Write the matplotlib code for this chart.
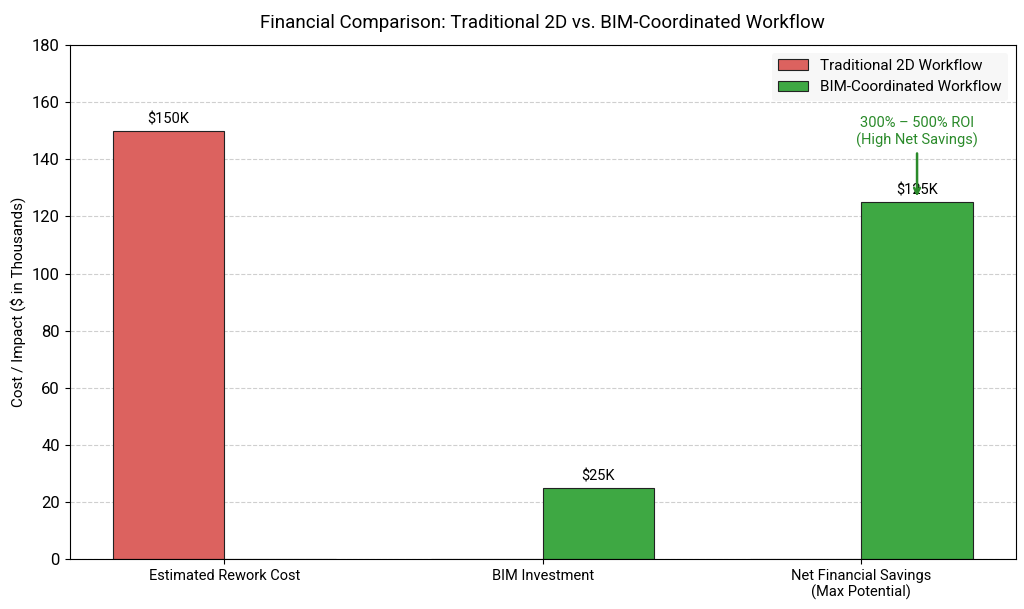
import numpy as np
import matplotlib.pyplot as plt

plt.rcParams['font.family'] = ['Roboto', 'DejaVu Sans']

categories = ["Estimated Rework Cost", "BIM Investment", "Net Financial Savings\n(Max Potential)"]
traditional = [150, 0, 0]
bim = [0, 25, 125]
labels_trad = ["$150K", "", ""]
labels_bim = ["", "$25K", "$125K"]

x = np.arange(len(categories))
w = 0.35

fig, ax = plt.subplots(figsize=(10.24, 6.09), dpi=100)
b1 = ax.bar(x - w/2, traditional, w, label="Traditional 2D Workflow",
            color='#dc625f', edgecolor='#222222', linewidth=0.8)
b2 = ax.bar(x + w/2, bim, w, label="BIM-Coordinated Workflow",
            color='#3ea843', edgecolor='#222222', linewidth=0.8)

for bars, labs in [(b1, labels_trad), (b2, labels_bim)]:
    for bar, lab in zip(bars, labs):
        if lab:
            ax.text(bar.get_x() + bar.get_width()/2, bar.get_height() + 1.5, lab,
                    ha='center', va='bottom', fontsize=10.5)

ax.annotate("300% – 500% ROI\n(High Net Savings)", xy=(2 + w/2, 126), xytext=(2 + w/2, 144),
            ha='center', va='bottom', color='#2a8a2a', fontsize=10.5,
            arrowprops=dict(arrowstyle='->', color='#2a8a2a', lw=1.8))

ax.set_ylim(0, 180)
ax.set_xticks(x)
ax.set_xticklabels(categories, fontsize=10.5)
ax.tick_params(axis='y', labelsize=12)
ax.set_ylabel("Cost / Impact ($ in Thousands)", fontsize=11)
ax.set_title("Financial Comparison: Traditional 2D vs. BIM-Coordinated Workflow", fontsize=13.5, pad=12)
ax.yaxis.grid(True, linestyle='--', alpha=0.6)
ax.set_axisbelow(True)
leg = ax.legend(loc='upper right', fontsize=11, facecolor='#f7f7f7', edgecolor='none', framealpha=1)

plt.subplots_adjust(left=0.068, right=0.992, top=0.926, bottom=0.082)
plt.savefig("out.png", dpi=100)
